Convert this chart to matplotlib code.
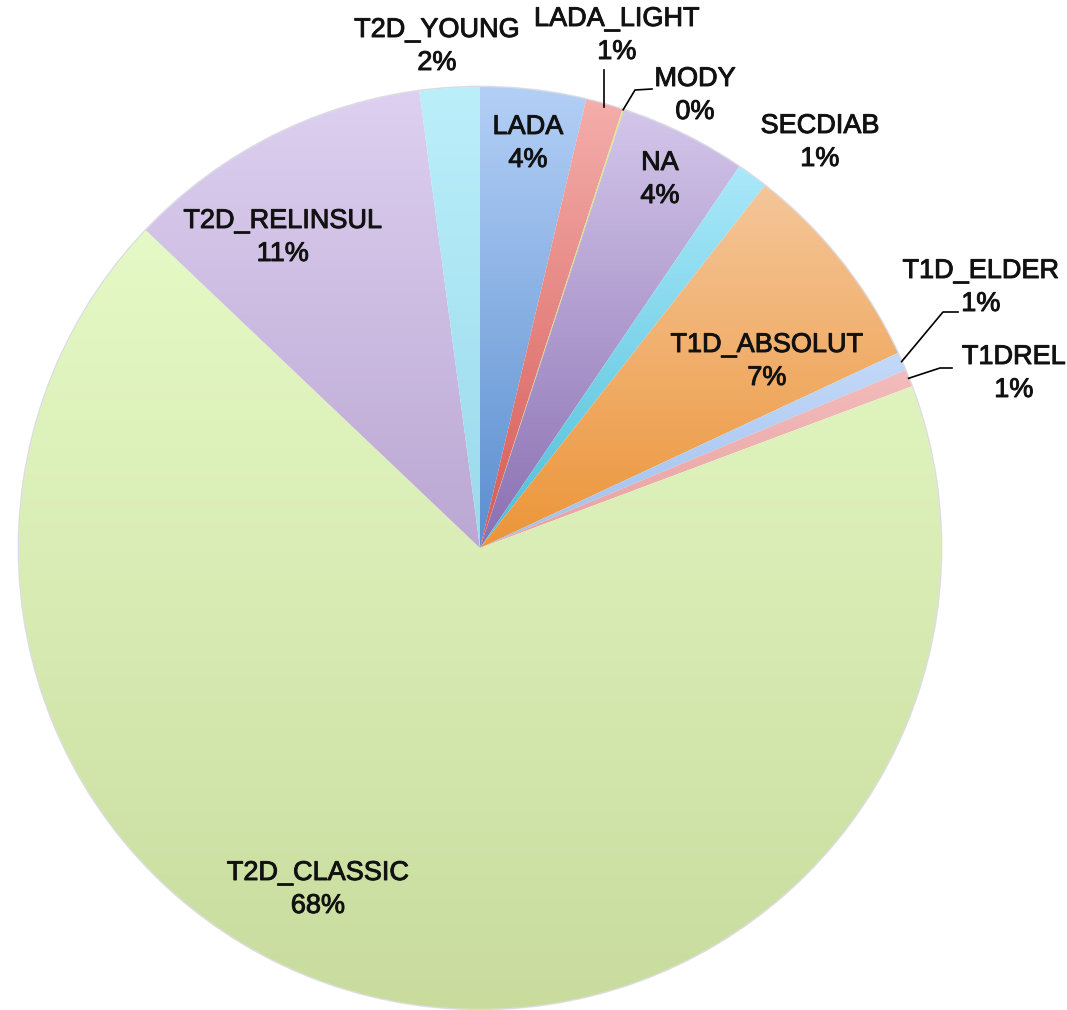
import numpy as np
import matplotlib.pyplot as plt
import matplotlib.patheffects as pe
from matplotlib.colors import LinearSegmentedColormap

plt.rcParams['font.family'] = ['Liberation Sans', 'DejaVu Sans']

# slice data (percent), clockwise from 12 o'clock
labels = ['LADA', 'LADA_LIGHT', 'MODY', 'NA', 'SECDIAB', 'T1D_ABSOLUT',
          'T1D_ELDER', 'T1DREL', 'T2D_CLASSIC', 'T2D_RELINSUL', 'T2D_YOUNG']
values = [3.7, 1.3, 0.05, 4.45, 1.1, 7.45, 0.65, 0.6, 67.8, 10.8, 2.1]

# gradient colours (top, bottom) per slice
top_cols = ['#b3cff6', '#f4aeab', '#dbe98c', '#d3c6ea', '#aae8fa', '#f5c69a',
            '#c3d9f8', '#f3bcbc', '#e5f9c6', '#ddd0f0', '#bbeffa']
bot_cols = ['#5a8ecf', '#d65a55', '#c6d86e', '#8a6fb2', '#4dbfd8', '#ec9538',
            '#9fc0ee', '#e8a0a0', '#c9dc9e', '#bba7d3', '#9ad9ec']

W, H = 1067, 1010
cx, cy, R = 480, H - 548, 461

fig = plt.figure(figsize=(W / 100, H / 100), dpi=100)
ax = fig.add_axes([0, 0, 1, 1])

wedges, _ = ax.pie(values, startangle=90, counterclock=False,
                   center=(cx, cy), radius=R,
                   wedgeprops=dict(linewidth=0, edgecolor='none'))

grad = np.linspace(0, 1, 256).reshape(-1, 1)
for w, c0, c1 in zip(wedges, top_cols, bot_cols):
    w.set_facecolor('none')
    ext = w.get_path().get_extents()
    cmap = LinearSegmentedColormap.from_list('g', [c0, c1])
    im = ax.imshow(grad, cmap=cmap, aspect='auto', origin='upper',
                   extent=[ext.x0, ext.x1, ext.y0, ext.y1], zorder=1,
                   interpolation='bilinear')
    im.set_clip_path(w)

# faint shadow rim
rim = plt.Circle((cx, cy), R + 0.5, fill=False, ec='#9a9ab0', lw=1.2, alpha=0.35, zorder=0)
ax.add_patch(rim)

pct = [f'{v:.0f}%' for v in values]
txt_fx = [pe.withStroke(linewidth=0.7, foreground='#1a1a1a')]

# label centres in image pixel coords (x, y of first line)
label_pos = {
    'LADA': (528, 127), 'LADA_LIGHT': (617, 19), 'MODY': (695, 79),
    'NA': (660, 163), 'SECDIAB': (820, 126), 'T1D_ABSOLUT': (767, 345),
    'T1D_ELDER': (981, 271), 'T1DREL': (1014, 357), 'T2D_CLASSIC': (318, 873),
    'T2D_RELINSUL': (283, 221), 'T2D_YOUNG': (437, 30),
}
for name, p in zip(labels, pct):
    x, y = label_pos[name]
    for k, s in enumerate([name, p]):
        ax.text(x, H - y - 33 * k, s, ha='center', va='center', fontsize=19.5,
                color='#111111', zorder=5, path_effects=txt_fx)

# leader lines for small outside slices: elbow points in image coords
leaders = {
    'LADA_LIGHT': [(604, 70)],
    'MODY': [(635, 90), (652, 89)],
    'T1D_ELDER': [(943, 312), (958, 312)],
    'T1DREL': [(940, 368), (952, 368)],
}
starts = np.cumsum([0] + values[:-1])
for i, name in enumerate(labels):
    if name not in leaders:
        continue
    mid = starts[i] + values[i] / 2
    ang = np.deg2rad(90 - mid * 3.6)
    sx, sy = cx + R * np.cos(ang), cy + R * np.sin(ang)
    if name == 'LADA_LIGHT':
        sx, sy = 604, H - 107
    pts = [(sx, sy)] + [(px, H - py) for px, py in leaders[name]]
    xs, ys = zip(*pts)
    ax.plot(xs, ys, color='black', lw=1.2, zorder=4)

ax.set_xlim(0, W)
ax.set_ylim(0, H)
ax.set_aspect('equal')
ax.axis('off')

plt.savefig('out.png', dpi=100)
